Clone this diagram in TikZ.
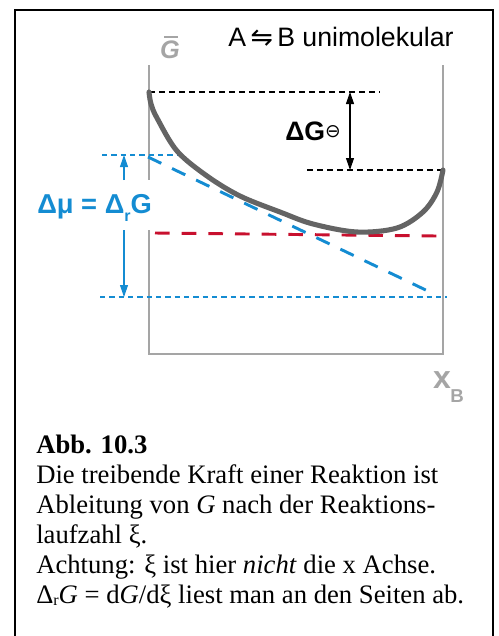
\documentclass[tikz,border=0pt]{standalone}
\usepackage{fontspec}
\setmainfont{Liberation Serif}
\setsansfont{Liberation Sans}
\newfontfamily\dejavu{DejaVu Sans}
\usetikzlibrary{arrows.meta}
\definecolor{axgray}{RGB}{165,165,165}
\definecolor{curvegray}{RGB}{100,100,100}
\definecolor{myblue}{RGB}{20,140,210}
\definecolor{myred}{RGB}{200,16,46}
\tikzset{
  axis/.style={axgray, line width=1.6pt},
  gcurve/.style={curvegray, line width=3.8pt},
  blackdash/.style={black, line width=1.6pt, dash pattern=on 4.5pt off 3pt},
  bluedot/.style={myblue, line width=1.9pt, dash pattern=on 4pt off 3pt},
  bluedash/.style={myblue, line width=2.2pt, dash pattern=on 11pt off 9pt},
  reddash/.style={myred, line width=2.2pt, dash pattern=on 11pt off 9pt},
  thinarrow/.style={line width=0.8pt, -{Triangle[length=9pt,width=6pt]}},
  caption/.style={anchor=base west, inner sep=0pt, font=\fontsize{20}{20}\selectfont},
}
\begin{document}
\begin{tikzpicture}[x=0.75pt,y=-0.75pt]
\useasboundingbox (0,0) rectangle (499,636);
% frame
\draw[line width=1.5pt] (15,645) -- (15,10) -- (493,10) -- (493,645);
% axes
\draw[axis] (149,65) -- (149,180);
\draw[axis] (149,230) -- (149,354) -- (443,354) -- (443,65);
% dashed reference lines
\draw[blackdash] (149,92) -- (380,92);
\draw[blackdash] (307,170) -- (443,170);
\draw[bluedot] (102,155) -- (180,155);
\draw[bluedot] (100,297) -- (447,297);
\draw[reddash] (155,233) -- (437,236);
\draw[bluedash] (148,157) -- (432,293);
% G curve
\draw[gcurve, line cap=round] plot[smooth, tension=0.55] coordinates
  {(149,92) (151,104) (157,118) (177,151) (207,176) (240,196) (280,212) (313,224) (357,232) (397,228) (423,212) (437,192) (443,170)};
% Delta G standard arrow
\coordinate (gt) at (350,92);
\coordinate (gb) at (350,170);
\draw[thinarrow, {Triangle[length=9pt,width=6pt]}-{Triangle[length=9pt,width=6pt]}] (gt) -- (gb);
\node[anchor=base west, inner sep=0pt] (dg) at (285,140)
  {\sffamily\bfseries\fontsize{20}{20}\selectfont ΔG{\dejavu\mdseries\fontsize{14}{14}\selectfont\raisebox{2pt}{⊖}}};
% Delta mu label and arrows
\node[anchor=base west, inner sep=0pt, text=myblue] (dmu) at (37,213)
  {\sffamily\bfseries\fontsize{20.5}{20}\selectfont Δμ = Δ\raisebox{-6pt}{\fontsize{12}{12}\selectfont r}G};
\coordinate (mt) at (124,155);
\coordinate (mts) at (124,180);
\coordinate (mb) at (124,297);
\coordinate (mbs) at (124,230);
\draw[thinarrow, myblue] (mts) -- (mt);
\draw[thinarrow, myblue] (mbs) -- (mb);
% axis labels
\node[anchor=base, inner sep=0pt, text=axgray] (gbar) at (170,58)
  {\sffamily\bfseries\itshape\fontsize{19}{19}\selectfont G};
\draw[axgray, line width=1.5pt] (164,37) -- (178,37);
\node[anchor=base, inner sep=0pt, text=axgray] (xb) at (442,388)
  {\sffamily\bfseries\fontsize{24}{24}\selectfont x};
\node[anchor=base, inner sep=0pt, text=axgray] (xbs) at (457,402)
  {\sffamily\bfseries\fontsize{14}{14}\selectfont B};
% title
\node[anchor=base west, inner sep=0pt] (title) at (228,46)
  {\sffamily\fontsize{20}{20}\selectfont A\,{\dejavu ⇋}\,B unimolekular};
% caption
\node[caption] (c0) at (36,453) {\bfseries Abb. 10.3};
\node[caption] (c1) at (36,483) {Die treibende Kraft einer Reaktion ist};
\node[caption] (c2) at (36,513) {Ableitung von \textit{G} nach der Reaktions-};
\node[caption] (c3) at (36,543) {laufzahl ξ.};
\node[caption] (c4) at (36,573) {Achtung: ξ ist hier \textit{nicht} die x Achse.};
\node[caption] (c5) at (36,603) {Δ\raisebox{-2pt}{\fontsize{12}{12}\selectfont r}\textit{G} = d\textit{G}/dξ liest man an den Seiten ab.};
\end{tikzpicture}
\end{document}
